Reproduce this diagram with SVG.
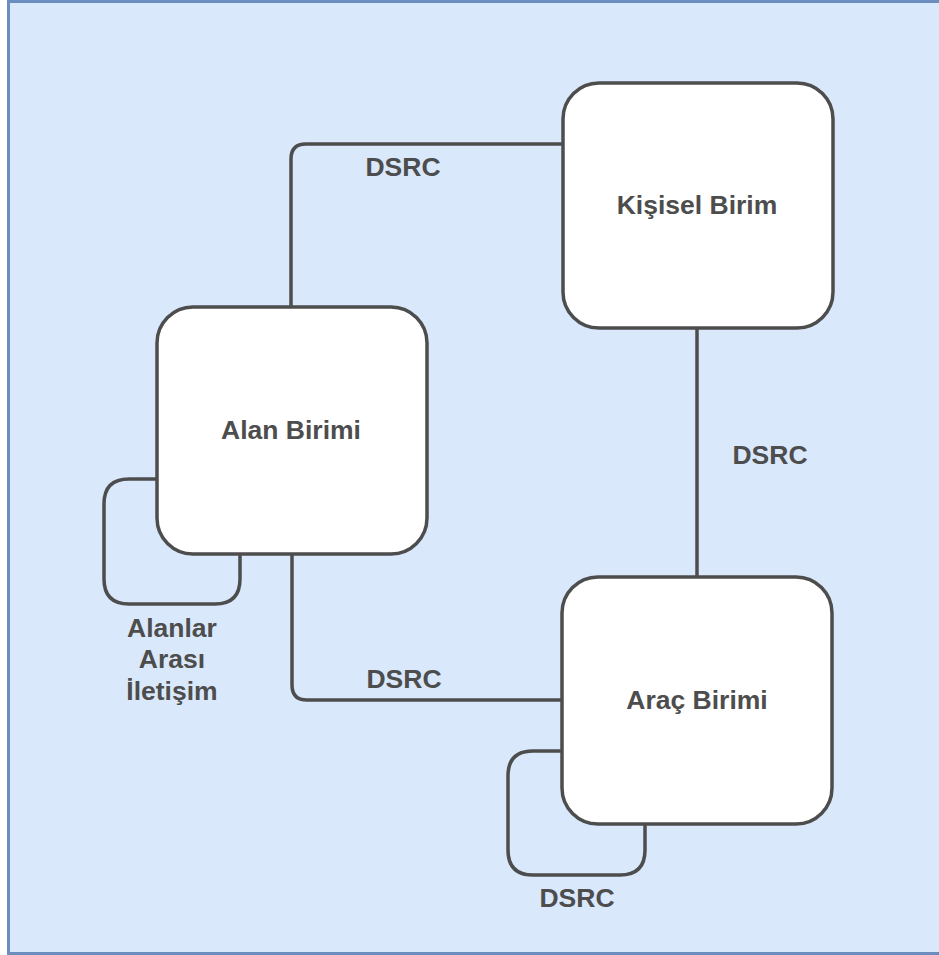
<svg xmlns="http://www.w3.org/2000/svg" width="939" height="955" viewBox="0 0 939 955">
  <style>
    .frame { fill: #dae8fc; stroke: #6c8ebf; stroke-width: 3; }
    .node rect { fill: #ffffff; stroke: #4d4d4d; stroke-width: 3.5; }
    .edge { fill: none; stroke: #4d4d4d; stroke-width: 3.5; stroke-linejoin: round; }
    text { font-family: "Liberation Sans", Arial, sans-serif; font-weight: bold; font-size: 26.5px; fill: #4d4d4d; text-anchor: middle; }
  </style>

  <!-- background panel -->
  <rect class="frame" x="8.5" y="1.5" width="945" height="952"/>

  <!-- connectors (drawn below the nodes) -->
  <g id="connectors">
    <!-- Alan Birimi top -> Kişisel Birim left -->
    <path class="edge" d="M291 307 V159 Q291 144 306 144 H563"/>
    <!-- Kişisel Birim bottom -> Araç Birimi top -->
    <path class="edge" d="M697 328 V577"/>
    <!-- Alan Birimi bottom -> Araç Birimi left -->
    <path class="edge" d="M292 554 V685 Q292 700 307 700 H562"/>
    <!-- Alan Birimi self loop -->
    <path class="edge" d="M157 479 H129 Q104 479 104 504 V579 Q104 604 129 604 H215 Q240 604 240 579 V554"/>
    <!-- Araç Birimi self loop -->
    <path class="edge" d="M562 751 H533 Q508 751 508 776 V850 Q508 875 533 875 H620 Q645 875 645 850 V824"/>
    <text x="403" y="176">DSRC</text>
    <text x="770" y="464">DSRC</text>
    <text x="404" y="688">DSRC</text>
    <text x="577" y="907">DSRC</text>
    <text x="172" y="637">Alanlar</text>
    <text x="172" y="668">Arası</text>
    <text x="172" y="700">İletişim</text>
  </g>

  <g id="kisisel-birim" class="node">
    <rect x="563" y="83" width="270" height="245" rx="36" ry="36"/>
    <text x="697" y="214">Kişisel Birim</text>
  </g>

  <g id="alan-birimi" class="node">
    <rect x="157" y="307" width="270" height="247" rx="36" ry="36"/>
    <text x="291" y="439">Alan Birimi</text>
  </g>

  <g id="arac-birimi" class="node">
    <rect x="562" y="577" width="270" height="247" rx="36" ry="36"/>
    <text x="697" y="709">Araç Birimi</text>
  </g>
</svg>
